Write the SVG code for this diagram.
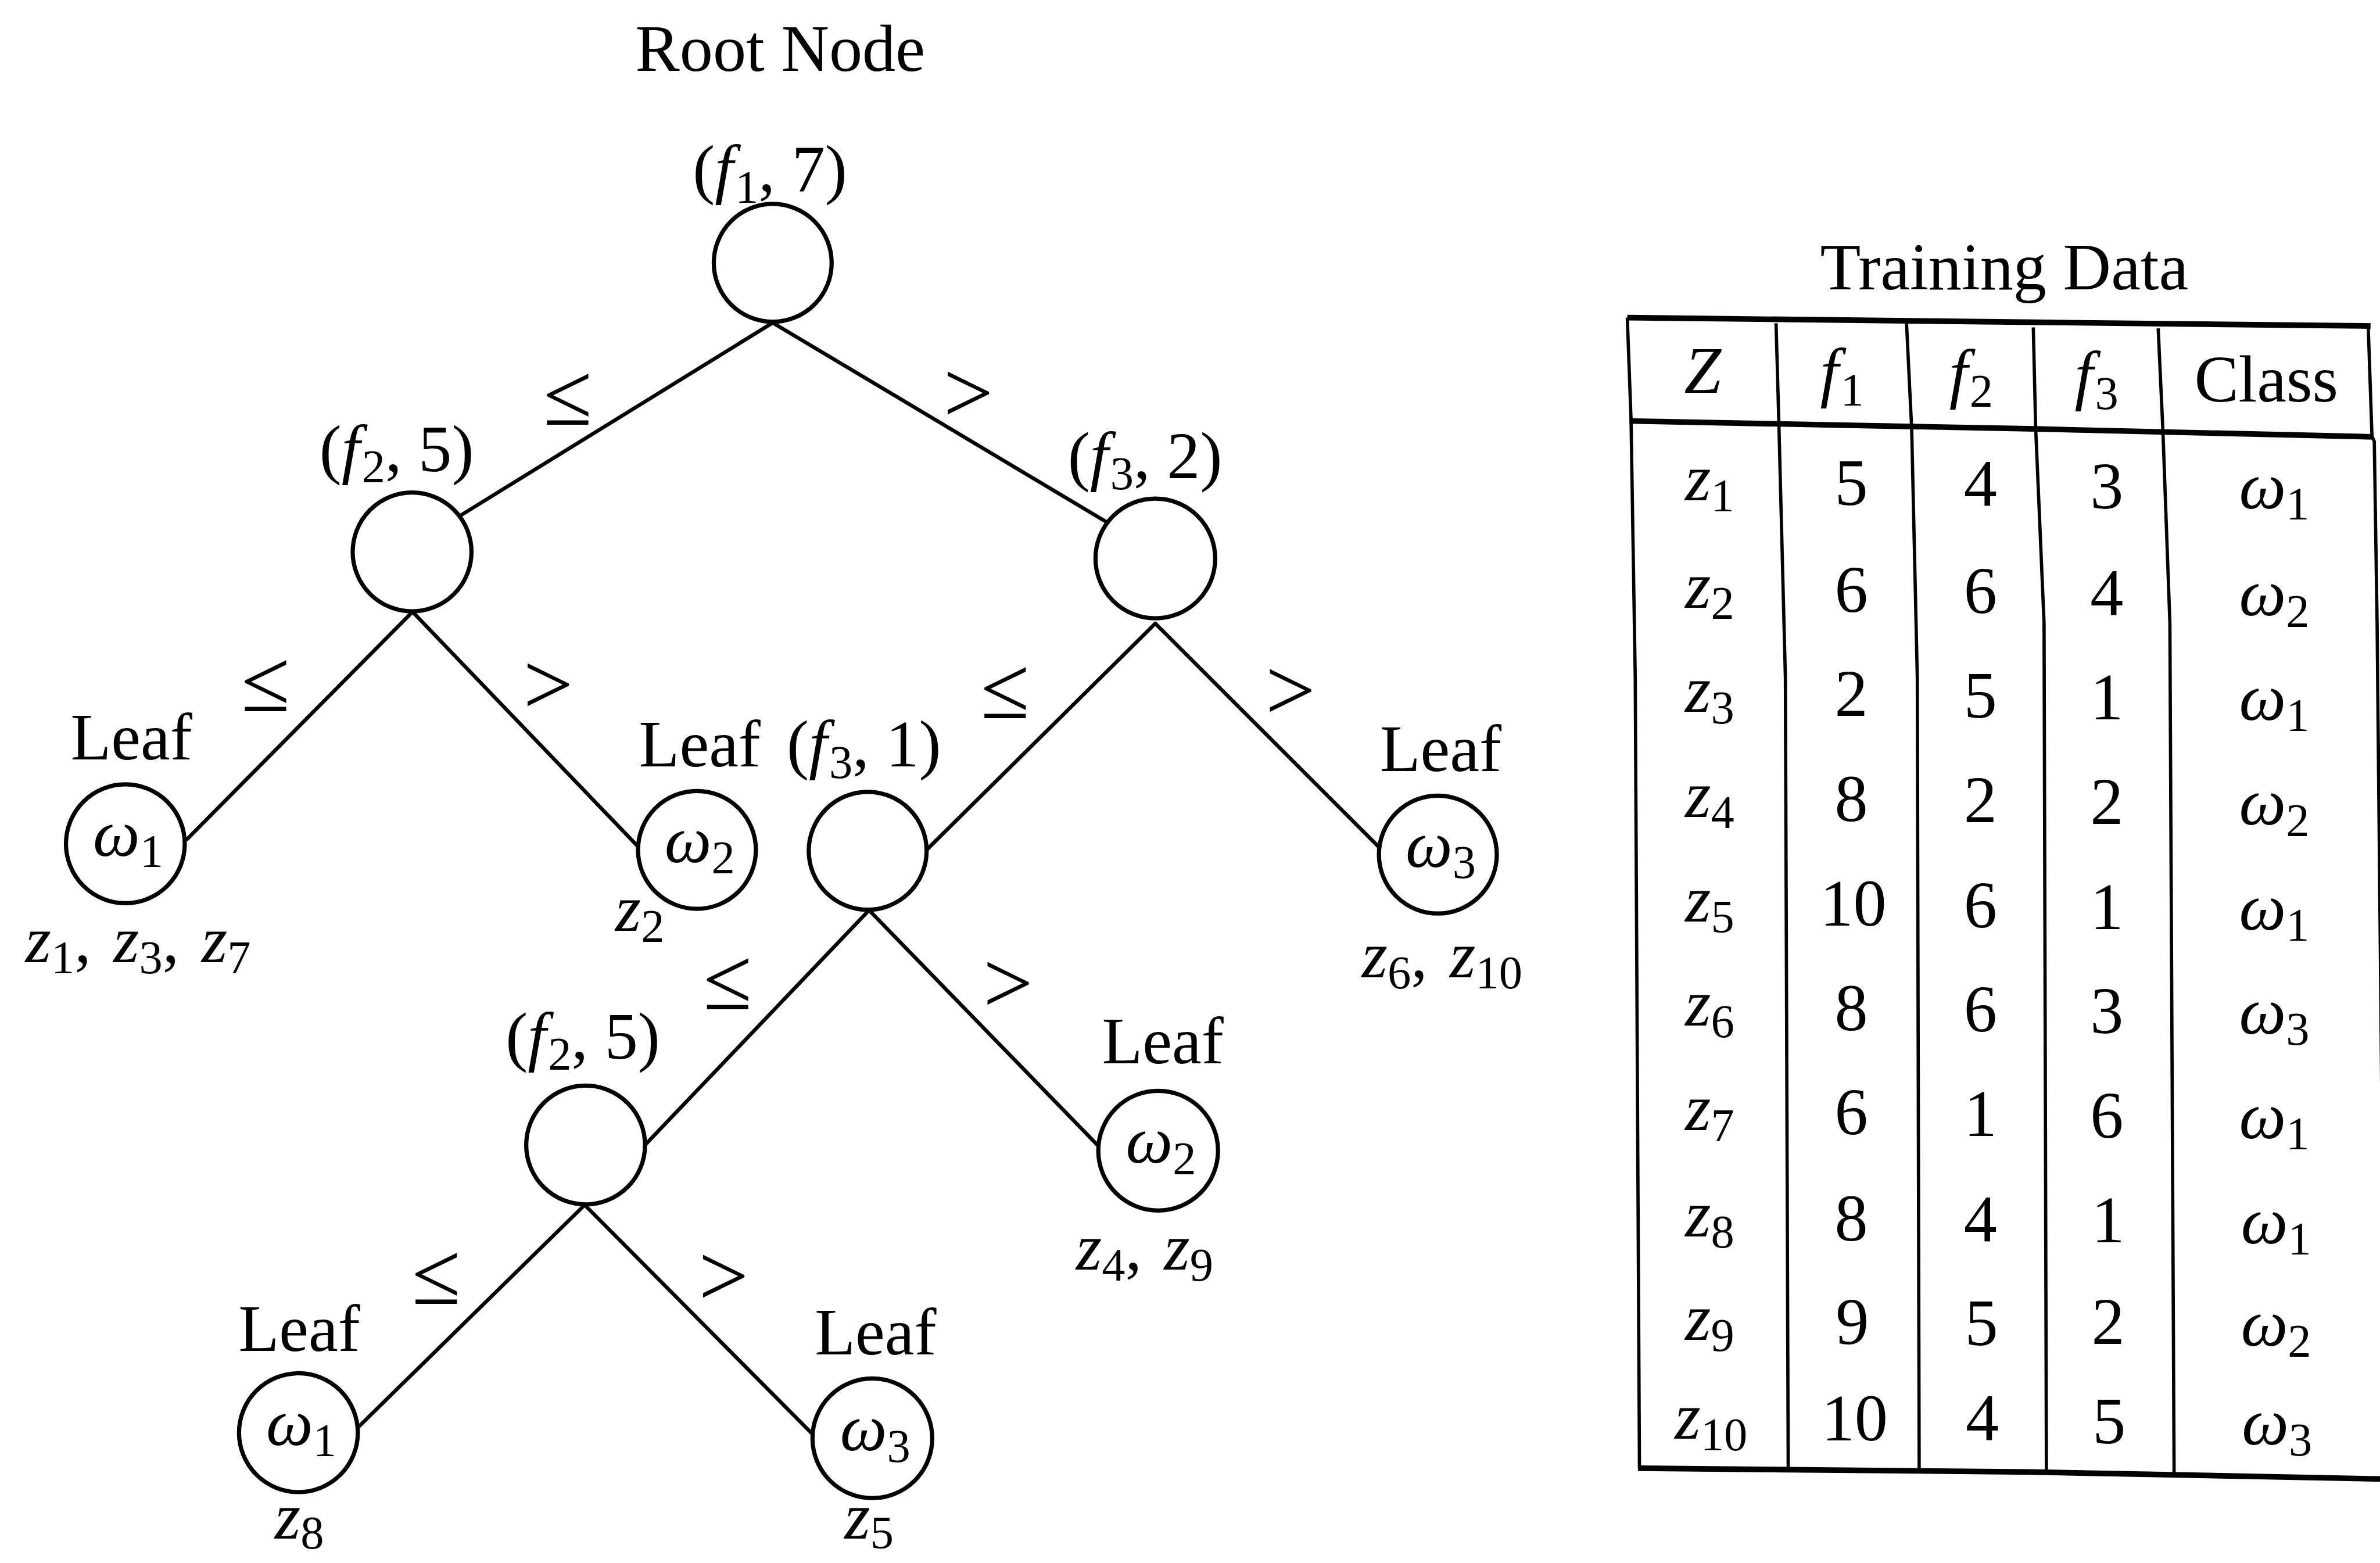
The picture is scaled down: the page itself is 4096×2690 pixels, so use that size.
<svg xmlns="http://www.w3.org/2000/svg" width="4096" height="2690" viewBox="0 0 4096 2690">
<style>
  .t { font-family: "Liberation Serif", "Times New Roman", serif; font-size: 142px; fill: #000; }
  .cond { font-size: 190px; }
  .i { font-style: italic; }
  .s { font-size: 100px; font-style: normal; }
  .node { fill: #fff; stroke: #000; stroke-width: 9; }
  .edge { fill: none; stroke: #000; stroke-width: 8; stroke-linecap: round; }
  .rule { fill: none; stroke: #000; stroke-width: 12; stroke-linejoin: round; }
  .vrule { fill: none; stroke: #000; stroke-width: 7; stroke-linejoin: round; }
</style>
<rect width="4096" height="2690" fill="#fff"/>
<!-- drawn in the 5082 x 3338 layout grid, scaled to the canvas -->
<g transform="scale(0.805)">

  <!-- tree branches -->
  <g id="connectors">
    <path class="edge" d="M1652 690 L962 1116"/>
    <path class="edge" d="M1652 690 L2384 1127"/>
    <path class="edge" d="M882 1308 L400 1794"/>
    <path class="edge" d="M882 1308 L1365 1811"/>
    <path class="edge" d="M2470 1333 L1982 1816"/>
    <path class="edge" d="M2470 1333 L2953 1816"/>
    <path class="edge" d="M1858 1946 L1377 2450"/>
    <path class="edge" d="M1858 1946 L2350 2452"/>
    <path class="edge" d="M1250 2576 L762 3055"/>
    <path class="edge" d="M1250 2576 L1735 3064"/>
  </g>

  <!-- branch conditions -->
  <g id="conditions" class="t cond" text-anchor="middle">
    <text x="1214" y="908">≤</text>
    <text x="2070" y="903">&gt;</text>
    <text x="568" y="1520">≤</text>
    <text x="1172" y="1527">&gt;</text>
    <text x="2149" y="1536">≤</text>
    <text x="2759" y="1539">&gt;</text>
    <text x="1556" y="2158">≤</text>
    <text x="2155" y="2165">&gt;</text>
    <text x="933" y="2787">≤</text>
    <text x="1547" y="2791">&gt;</text>
  </g>

  <text id="root-title" class="t" x="1668" y="152" text-anchor="middle">Root Node</text>

  <g id="n-root">
    <circle class="node" cx="1652" cy="562" r="126"/>
    <text class="t" x="1646" y="409" text-anchor="middle">(<tspan class="i">f</tspan><tspan class="s" dx="4" dy="24">1</tspan><tspan dy="-24">, 7)</tspan></text>
  </g>

  <g id="n-f2-upper">
    <circle class="node" cx="881" cy="1180" r="127"/>
    <text class="t" x="848" y="1007" text-anchor="middle">(<tspan class="i">f</tspan><tspan class="s" dx="4" dy="24">2</tspan><tspan dy="-24">, 5)</tspan></text>
  </g>

  <g id="n-f3-2">
    <circle class="node" cx="2470" cy="1194" r="128"/>
    <text class="t" x="2448" y="1022" text-anchor="middle">(<tspan class="i">f</tspan><tspan class="s" dx="4" dy="24">3</tspan><tspan dy="-24">, 2)</tspan></text>
  </g>

  <g id="leaf-w1-a">
    <text class="t" x="281" y="1623" text-anchor="middle">Leaf</text>
    <circle class="node" cx="268" cy="1804" r="127"/>
    <text class="t" x="274" y="1830" text-anchor="middle"><tspan class="i">ω</tspan><tspan class="s" dy="24">1</tspan></text>
    <text class="t" x="295" y="2057" text-anchor="middle"><tspan class="i">z</tspan><tspan class="s" dy="24">1</tspan><tspan dy="-24">, </tspan><tspan class="i" dx="12">z</tspan><tspan class="s" dy="24">3</tspan><tspan dy="-24">, </tspan><tspan class="i" dx="12">z</tspan><tspan class="s" dy="24">7</tspan></text>
  </g>

  <g id="leaf-w2-a">
    <text class="t" x="1496" y="1639" text-anchor="middle">Leaf</text>
    <circle class="node" cx="1490" cy="1817" r="126"/>
    <text class="t" x="1496" y="1843" text-anchor="middle"><tspan class="i">ω</tspan><tspan class="s" dy="24">2</tspan></text>
    <text class="t" x="1368" y="1990" text-anchor="middle"><tspan class="i">z</tspan><tspan class="s" dy="24">2</tspan></text>
  </g>

  <g id="n-f3-1">
    <circle class="node" cx="1855" cy="1819" r="126"/>
    <text class="t" x="1847" y="1639" text-anchor="middle">(<tspan class="i">f</tspan><tspan class="s" dx="4" dy="24">3</tspan><tspan dy="-24">, 1)</tspan></text>
  </g>

  <g id="leaf-w3-a">
    <text class="t" x="3080" y="1648" text-anchor="middle">Leaf</text>
    <circle class="node" cx="3074" cy="1827" r="126"/>
    <text class="t" x="3080" y="1853" text-anchor="middle"><tspan class="i">ω</tspan><tspan class="s" dy="24">3</tspan></text>
    <text class="t" x="3083" y="2089" text-anchor="middle"><tspan class="i">z</tspan><tspan class="s" dy="24">6</tspan><tspan dy="-24">, </tspan><tspan class="i" dx="12">z</tspan><tspan class="s" dy="24">10</tspan></text>
  </g>

  <g id="n-f2-lower">
    <circle class="node" cx="1252" cy="2448" r="127"/>
    <text class="t" x="1246" y="2263" text-anchor="middle">(<tspan class="i">f</tspan><tspan class="s" dx="4" dy="24">2</tspan><tspan dy="-24">, 5)</tspan></text>
  </g>

  <g id="leaf-w2-b">
    <text class="t" x="2486" y="2273" text-anchor="middle">Leaf</text>
    <circle class="node" cx="2476" cy="2460" r="128"/>
    <text class="t" x="2482" y="2486" text-anchor="middle"><tspan class="i">ω</tspan><tspan class="s" dy="24">2</tspan></text>
    <text class="t" x="2447" y="2714" text-anchor="middle"><tspan class="i">z</tspan><tspan class="s" dy="24">4</tspan><tspan dy="-24">, </tspan><tspan class="i" dx="12">z</tspan><tspan class="s" dy="24">9</tspan></text>
  </g>

  <g id="leaf-w1-b">
    <text class="t" x="640" y="2888" text-anchor="middle">Leaf</text>
    <circle class="node" cx="638" cy="3063" r="127"/>
    <text class="t" x="644" y="3089" text-anchor="middle"><tspan class="i">ω</tspan><tspan class="s" dy="24">1</tspan></text>
    <text class="t" x="640" y="3290" text-anchor="middle"><tspan class="i">z</tspan><tspan class="s" dy="20">8</tspan></text>
  </g>

  <g id="leaf-w3-b">
    <text class="t" x="1872" y="2896" text-anchor="middle">Leaf</text>
    <circle class="node" cx="1865" cy="3075" r="128"/>
    <text class="t" x="1871" y="3101" text-anchor="middle"><tspan class="i">ω</tspan><tspan class="s" dy="24">3</tspan></text>
    <text class="t" x="1858" y="3290" text-anchor="middle"><tspan class="i">z</tspan><tspan class="s" dy="20">5</tspan></text>
  </g>

  <!-- training data table -->
  <g id="training-table">
    <text class="t" x="4285" y="619" text-anchor="middle">Training Data</text>

    <g id="table-rules">
      <polyline class="rule" points="3479,679 4350,689 5068,697"/>
      <polyline class="rule" points="3484,900 4350,917 5073,934"/>
      <polyline class="rule" points="3502,3139 4340,3147 5090,3162"/>
      <polyline class="vrule" points="3479,679 3487,897 3496,1450 3505,3139"/>
      <polyline class="vrule" points="3797,691 3803,903 3817,1450 3823,3142"/>
      <polyline class="vrule" points="4076,692 4087,917 4099,1450 4103,3145"/>
      <polyline class="vrule" points="4347,700 4352,914 4370,1332 4375,3145"/>
      <polyline class="vrule" points="4614,702 4624,919 4639,1332 4648,3150"/>
      <polyline class="vrule" points="5063,697 5071,932 5076,944 5082,1332 5100,3162"/>
    </g>

    <g id="table-header" class="t" text-anchor="middle">
      <text class="i" x="3640" y="840">Z</text>
      <text x="3938" y="843"><tspan class="i">f</tspan><tspan class="s" dx="4" dy="24">1</tspan></text>
      <text x="4214" y="846"><tspan class="i">f</tspan><tspan class="s" dx="4" dy="24">2</tspan></text>
      <text x="4482" y="850"><tspan class="i">f</tspan><tspan class="s" dx="4" dy="24">3</tspan></text>
      <text x="4845" y="859">Class</text>
    </g>

    <g id="table-rows" class="t" text-anchor="middle">
      <text x="3655" y="1069"><tspan class="i">z</tspan><tspan class="s" dy="24">1</tspan></text>
      <text x="3958" y="1079">5</text><text x="4234" y="1082">4</text><text x="4504" y="1087">3</text>
      <text x="4862" y="1087"><tspan class="i">ω</tspan><tspan class="s" dy="24">1</tspan></text>

      <text x="3655" y="1299"><tspan class="i">z</tspan><tspan class="s" dy="24">2</tspan></text>
      <text x="3958" y="1308">6</text><text x="4234" y="1311">6</text><text x="4504" y="1315">4</text>
      <text x="4862" y="1316"><tspan class="i">ω</tspan><tspan class="s" dy="24">2</tspan></text>

      <text x="3655" y="1522"><tspan class="i">z</tspan><tspan class="s" dy="24">3</tspan></text>
      <text x="3958" y="1531">2</text><text x="4234" y="1534">5</text><text x="4504" y="1538">1</text>
      <text x="4862" y="1539"><tspan class="i">ω</tspan><tspan class="s" dy="24">1</tspan></text>

      <text x="3655" y="1746"><tspan class="i">z</tspan><tspan class="s" dy="24">4</tspan></text>
      <text x="3958" y="1755">8</text><text x="4234" y="1758">2</text><text x="4504" y="1762">2</text>
      <text x="4862" y="1763"><tspan class="i">ω</tspan><tspan class="s" dy="24">2</tspan></text>

      <text x="3655" y="1970"><tspan class="i">z</tspan><tspan class="s" dy="24">5</tspan></text>
      <text x="3962" y="1979">10</text><text x="4234" y="1982">6</text><text x="4504" y="1986">1</text>
      <text x="4862" y="1987"><tspan class="i">ω</tspan><tspan class="s" dy="24">1</tspan></text>

      <text x="3655" y="2193"><tspan class="i">z</tspan><tspan class="s" dy="24">6</tspan></text>
      <text x="3958" y="2202">8</text><text x="4234" y="2205">6</text><text x="4504" y="2209">3</text>
      <text x="4862" y="2210"><tspan class="i">ω</tspan><tspan class="s" dy="24">3</tspan></text>

      <text x="3655" y="2416"><tspan class="i">z</tspan><tspan class="s" dy="24">7</tspan></text>
      <text x="3958" y="2425">6</text><text x="4234" y="2428">1</text><text x="4504" y="2432">6</text>
      <text x="4862" y="2433"><tspan class="i">ω</tspan><tspan class="s" dy="24">1</tspan></text>

      <text x="3655" y="2643"><tspan class="i">z</tspan><tspan class="s" dy="24">8</tspan></text>
      <text x="3958" y="2652">8</text><text x="4234" y="2655">4</text><text x="4507" y="2656">1</text>
      <text x="4866" y="2658"><tspan class="i">ω</tspan><tspan class="s" dy="24">1</tspan></text>

      <text x="3655" y="2864"><tspan class="i">z</tspan><tspan class="s" dy="24">9</tspan></text>
      <text x="3960" y="2873">9</text><text x="4236" y="2876">5</text><text x="4507" y="2873">2</text>
      <text x="4866" y="2877"><tspan class="i">ω</tspan><tspan class="s" dy="24">2</tspan></text>

      <text x="3658" y="3076"><tspan class="i">z</tspan><tspan class="s" dy="24">10</tspan></text>
      <text x="3965" y="3080">10</text><text x="4238" y="3080">4</text><text x="4509" y="3086">5</text>
      <text x="4868" y="3088"><tspan class="i">ω</tspan><tspan class="s" dy="24">3</tspan></text>
    </g>
  </g>
</g>
</svg>
